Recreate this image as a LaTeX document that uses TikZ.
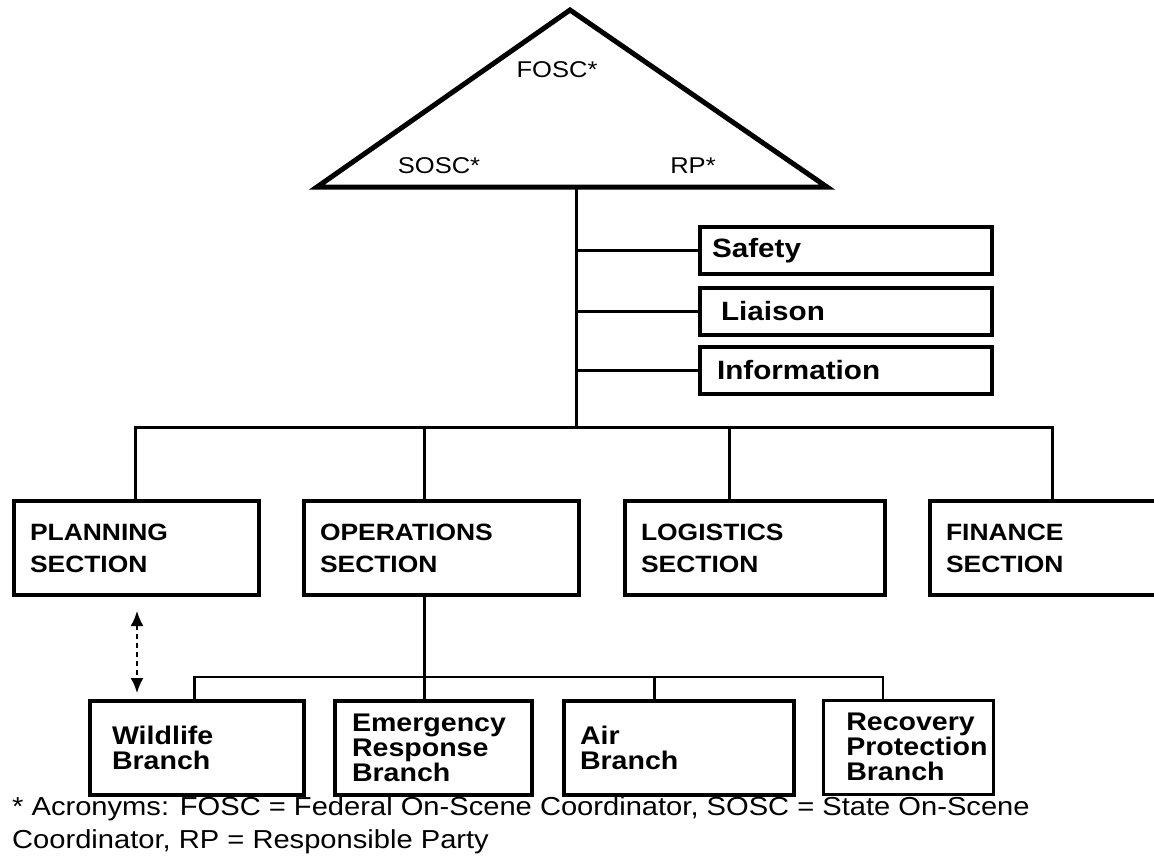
\documentclass[tikz,border=0pt]{standalone}
\usepackage{fontspec}
\setmainfont[FakeStretch=1.12]{Liberation Sans}
\usetikzlibrary{arrows.meta}

\begin{document}
\begin{tikzpicture}[x=1pt,y=-1pt]
\tikzstyle{box}=[draw,line width=4pt,anchor=north west,align=left,inner ysep=0pt]
\tikzstyle{topbox}=[box,font=\bfseries\fontsize{26.5}{30}\selectfont,minimum height=47pt]
\tikzstyle{section}=[box,font=\bfseries\fontsize{23.6}{32}\selectfont,minimum height=94pt,inner xsep=16pt]
\tikzstyle{branch}=[box,font=\bfseries\fontsize{25.5}{25}\selectfont,minimum height=94pt]
\tikzstyle{trilabel}=[font=\fontsize{22.8}{26}\selectfont]
\tikzstyle{note}=[font=\fontsize{26}{33}\selectfont,align=left,inner sep=0pt,anchor=north west]
\tikzstyle{wire}=[line width=3pt]
\useasboundingbox (0,0) rectangle (1154,857);

% command triangle
\coordinate (apex) at (570,10);
\coordinate (baseL) at (317,187);
\coordinate (baseR) at (827,187);
\draw[line width=5pt] (baseL) -- (apex) -- (baseR) -- cycle;
\node[trilabel] (fosc) at (557,70) {FOSC*};
\node[trilabel] (sosc) at (439,166) {SOSC*};
\node[trilabel] (rp) at (693,166) {RP*};

% command staff
\node[topbox,inner xsep=12pt,text width=268pt] (safety) at (698,225) {Safety};
\node[topbox,inner xsep=21pt,text width=250pt] (liaison) at (698,286) {Liaison};
\node[topbox,inner xsep=17pt,text width=258pt] (info) at (698,345) {Information};

% general staff
\node[section,text width=213pt] (plan) at (12,499) {PLANNING\\SECTION};
\node[section,text width=243pt] (ops) at (302,499) {OPERATIONS\\SECTION};
\node[section,text width=228pt] (log) at (623,499) {LOGISTICS\\SECTION};
\node[section,text width=208pt] (fin) at (928,499) {FINANCE\\SECTION};

% branches
\node[branch,inner xsep=22pt,text width=170pt] (wild) at (88,699) {Wildlife\\Branch};
\node[branch,inner xsep=17pt,text width=163pt] (emer) at (333,699) {Emergency\\Response\\Branch};
\node[branch,inner xsep=16pt,text width=198pt] (air) at (562,699) {Air\\Branch};
\node[branch,line width=2.5pt,inner xsep=23pt,text width=124pt] (recov) at (822,699) {Recovery\\Protection\\Branch};

\node[note] (acro) at (12,796) {* Acronyms: FOSC = Federal On-Scene Coordinator, SOSC = State On-Scene\\Coordinator, RP = Responsible Party};

% connectors
\coordinate (stem) at (576,187);
\coordinate (hub) at (576,427);
\draw[wire] (stem) -- (hub);
\foreach \b in {safety,liaison,info}
  \draw[wire] (stem |- \b.west) -- (\b.west);

\coordinate (dplan) at (135,427);
\coordinate (dops) at (424,427);
\coordinate (dlog) at (729,427);
\coordinate (dfin) at (1052,427);
\draw[wire] (dplan |- plan.north) -- (dplan) -- (dfin) -- (dfin |- fin.north);
\draw[wire] (dops) -- (dops |- ops.north);
\draw[wire] (dlog) -- (dlog |- log.north);

\coordinate (bwild) at (194,677);
\coordinate (bair) at (654,677);
\coordinate (brec) at (883,677);
\draw[line width=2pt] (bwild |- wild.north) -- (bwild) -- (brec) -- (brec |- recov.north);
\draw[wire] (bwild) -- (bwild |- wild.north);
\draw[wire] (dops |- ops.south) -- (dops |- emer.north);
\draw[wire] (bair) -- (bair |- air.north);

\coordinate (dash) at (137,0);
\draw[line width=2pt,dash pattern=on 5pt off 4pt,shorten <=14pt,shorten >=6pt,
  {Latex[length=15pt,width=13pt]}-{Latex[length=15pt,width=13pt]}]
  (plan.south -| dash) -- (wild.north -| dash);
\end{tikzpicture}
\end{document}
